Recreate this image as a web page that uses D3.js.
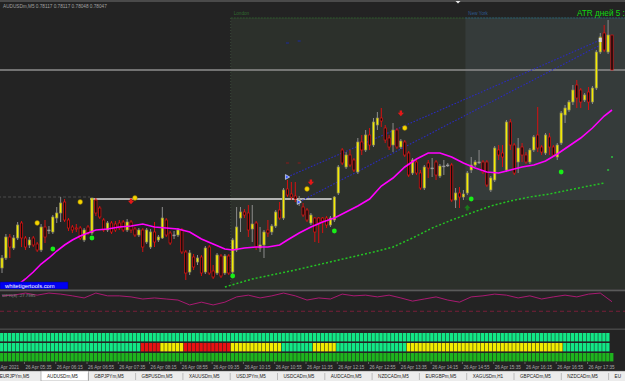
<!DOCTYPE html>
<html>
<head>
<meta charset="utf-8">
<script src="https://cdnjs.cloudflare.com/ajax/libs/d3/7.8.5/d3.min.js"></script>
<style>
    html, body { margin: 0; padding: 0; background: #232323; }
    svg { display: block; font-family: "Liberation Sans", Arial, sans-serif; }
</style>
</head>
<body>
<svg id="chart" width="625" height="381"></svg>
<script>
// AUDUSDm M5 candles, 26 Apr 2021, 05:05 .. 18:05
const opens = [
    0.77651, 0.77671, 0.77713, 0.77691, 0.77711, 0.77741, 0.77711, 0.77697, 0.77711, 0.77699,
    0.77687, 0.77733, 0.77727, 0.77723, 0.77751, 0.77761, 0.77783, 0.77747, 0.77733, 0.77731,
    0.77731, 0.77707, 0.77733, 0.77721, 0.77787, 0.77771, 0.77747, 0.77727, 0.77741, 0.77739,
    0.77741, 0.77743, 0.77727, 0.77743, 0.77729, 0.77717, 0.77727, 0.77703, 0.77693, 0.77723,
    0.77707, 0.77711, 0.77747, 0.77721, 0.77717, 0.77717, 0.77727, 0.77683, 0.77643, 0.77673,
    0.77663, 0.77673, 0.77643, 0.77693, 0.77645, 0.77641, 0.77675, 0.77641, 0.77675, 0.77643,
    0.77687, 0.77751, 0.77763, 0.77761, 0.77729, 0.77741, 0.77691, 0.77697, 0.77727, 0.77723,
    0.77735, 0.77767, 0.77751, 0.77809, 0.77799, 0.77795, 0.77781, 0.77773, 0.77767, 0.77741,
    0.77751, 0.77751, 0.77751, 0.77751, 0.77737, 0.77747, 0.77801, 0.77887, 0.77853, 0.77877,
    0.77867, 0.77843, 0.77903, 0.77887, 0.77917, 0.77897, 0.77937, 0.77951, 0.77931, 0.77911,
    0.77897, 0.77927, 0.77893, 0.77903, 0.77881, 0.77841, 0.77863, 0.77841, 0.77811, 0.77861,
    0.77851, 0.77863, 0.77835, 0.77855, 0.77857, 0.77857, 0.77787, 0.77801, 0.77793, 0.77801,
    0.77847, 0.77857, 0.77863, 0.77863, 0.77863, 0.77807, 0.77827, 0.77887, 0.77881, 0.77847,
    0.77943, 0.77897, 0.77863, 0.77893, 0.77877, 0.77863, 0.77887, 0.77917, 0.77893, 0.77881,
    0.77913, 0.77893, 0.77873, 0.77901, 0.77957, 0.77967, 0.77983, 0.78017, 0.78007, 0.77987,
    0.78003, 0.77983, 0.78011, 0.78083, 0.78121, 0.78083, 0.78117
];
const highs = [
    0.77677, 0.77719, 0.77719, 0.77717, 0.77743, 0.77745, 0.77715, 0.77713, 0.77715, 0.77703,
    0.77739, 0.77747, 0.77735, 0.77757, 0.77773, 0.77793, 0.77789, 0.77751, 0.77737, 0.77739,
    0.77735, 0.77731, 0.77737, 0.77791, 0.77791, 0.77775, 0.77751, 0.77745, 0.77745, 0.77745,
    0.77747, 0.77747, 0.77749, 0.77747, 0.77733, 0.77731, 0.77731, 0.77731, 0.77729, 0.77743,
    0.77717, 0.77773, 0.77751, 0.77725, 0.77725, 0.77731, 0.77731, 0.77687, 0.77687, 0.77679,
    0.77677, 0.77677, 0.77695, 0.77697, 0.77657, 0.77681, 0.77679, 0.77679, 0.77679, 0.77711,
    0.77773, 0.77773, 0.77769, 0.77777, 0.77777, 0.77745, 0.77733, 0.77727, 0.77747, 0.77739,
    0.77767, 0.77783, 0.77811, 0.77827, 0.77823, 0.77823, 0.77795, 0.77781, 0.77771, 0.77761,
    0.77753, 0.77753, 0.77753, 0.77755, 0.77755, 0.77795, 0.77857, 0.77891, 0.77883, 0.77887,
    0.77871, 0.77911, 0.77917, 0.77927, 0.77931, 0.77951, 0.77963, 0.77971, 0.77937, 0.77917,
    0.77941, 0.77931, 0.77909, 0.77907, 0.77885, 0.77871, 0.77867, 0.77847, 0.77857, 0.77867,
    0.77871, 0.77867, 0.77859, 0.77867, 0.77861, 0.77861, 0.77811, 0.77813, 0.77807, 0.77845,
    0.77873, 0.77867, 0.77887, 0.77867, 0.77867, 0.77835, 0.77895, 0.77897, 0.77897, 0.77947,
    0.77949, 0.77901, 0.77911, 0.77901, 0.77883, 0.77891, 0.77917, 0.77973, 0.77897, 0.77921,
    0.77921, 0.77897, 0.77901, 0.77965, 0.77977, 0.77987, 0.78017, 0.78027, 0.78011, 0.78001,
    0.78013, 0.78015, 0.78087, 0.78121, 0.78137, 0.78147, 0.78117
];
const lows = [
    0.77641, 0.77667, 0.77671, 0.77687, 0.77707, 0.77693, 0.77687, 0.77691, 0.77693, 0.77683,
    0.77683, 0.77701, 0.77719, 0.77719, 0.77741, 0.77743, 0.77743, 0.77725, 0.77721, 0.77723,
    0.77707, 0.77703, 0.77717, 0.77717, 0.77755, 0.77749, 0.77723, 0.77723, 0.77719, 0.77723,
    0.77727, 0.77723, 0.77723, 0.77721, 0.77713, 0.77713, 0.77683, 0.77699, 0.77689, 0.77693,
    0.77703, 0.77709, 0.77713, 0.77697, 0.77709, 0.77713, 0.77679, 0.77627, 0.77637, 0.77647,
    0.77657, 0.77635, 0.77639, 0.77637, 0.77629, 0.77637, 0.77631, 0.77637, 0.77637, 0.77639,
    0.77683, 0.77723, 0.77751, 0.77713, 0.77703, 0.77687, 0.77683, 0.77671, 0.77713, 0.77717,
    0.77731, 0.77747, 0.77747, 0.77793, 0.77787, 0.77783, 0.77775, 0.77753, 0.77743, 0.77737,
    0.77703, 0.77701, 0.77721, 0.77731, 0.77733, 0.77743, 0.77797, 0.77857, 0.77849, 0.77853,
    0.77843, 0.77839, 0.77877, 0.77883, 0.77887, 0.77893, 0.77927, 0.77933, 0.77901, 0.77887,
    0.77883, 0.77889, 0.77889, 0.77873, 0.77833, 0.77837, 0.77837, 0.77807, 0.77807, 0.77831,
    0.77833, 0.77827, 0.77831, 0.77837, 0.77853, 0.77783, 0.77771, 0.77771, 0.77787, 0.77797,
    0.77841, 0.77853, 0.77859, 0.77839, 0.77813, 0.77803, 0.77823, 0.77867, 0.77853, 0.77843,
    0.77887, 0.77837, 0.77841, 0.77863, 0.77859, 0.77859, 0.77883, 0.77883, 0.77877, 0.77877,
    0.77877, 0.77873, 0.77867, 0.77897, 0.77941, 0.77963, 0.77977, 0.77971, 0.77971, 0.77983,
    0.77967, 0.77979, 0.78007, 0.78079, 0.78083, 0.78079, 0.78047
];
const closes = [
    0.77671, 0.77713, 0.77693, 0.77711, 0.77737, 0.77711, 0.77693, 0.77707, 0.77697, 0.77687,
    0.77733, 0.77713, 0.77727, 0.77753, 0.77761, 0.77781, 0.77747, 0.77731, 0.77727, 0.77729,
    0.77711, 0.77727, 0.77721, 0.77791, 0.77761, 0.77753, 0.77727, 0.77741, 0.77723, 0.77727,
    0.77731, 0.77727, 0.77743, 0.77727, 0.77717, 0.77727, 0.77693, 0.77727, 0.77723, 0.77703,
    0.77713, 0.77751, 0.77717, 0.77701, 0.77717, 0.77727, 0.77683, 0.77641, 0.77681, 0.77653,
    0.77671, 0.77641, 0.77691, 0.77641, 0.77633, 0.77677, 0.77635, 0.77675, 0.77641, 0.77707,
    0.77733, 0.77763, 0.77757, 0.77727, 0.77739, 0.77693, 0.77697, 0.77723, 0.77721, 0.77735,
    0.77763, 0.77751, 0.77807, 0.77797, 0.77793, 0.77789, 0.77787, 0.77757, 0.77747, 0.77757,
    0.77723, 0.77741, 0.77745, 0.77737, 0.77751, 0.77793, 0.77853, 0.77861, 0.77877, 0.77857,
    0.77847, 0.77903, 0.77887, 0.77917, 0.77897, 0.77943, 0.77951, 0.77945, 0.77907, 0.77893,
    0.77927, 0.77893, 0.77905, 0.77877, 0.77837, 0.77867, 0.77841, 0.77811, 0.77853, 0.77851,
    0.77851, 0.77837, 0.77855, 0.77855, 0.77857, 0.77787, 0.77801, 0.77793, 0.77799, 0.77841,
    0.77857, 0.77863, 0.77863, 0.77843, 0.77817, 0.77831, 0.77891, 0.77877, 0.77873, 0.77943,
    0.77897, 0.77841, 0.77891, 0.77877, 0.77863, 0.77887, 0.77913, 0.77891, 0.77883, 0.77917,
    0.77893, 0.77877, 0.77897, 0.77961, 0.77971, 0.77983, 0.78007, 0.77991, 0.77983, 0.77997,
    0.77983, 0.78011, 0.78083, 0.78113, 0.78087, 0.78117, 0.78047
];

// Moving average (magenta), read at selected bars
const maBars = [4, 6, 8, 10, 12, 14, 16, 18, 20, 22, 24, 27, 30, 33, 36, 39, 42, 45, 48, 51, 54, 57,
    59, 62, 65, 68, 71, 73, 76, 79, 82, 85, 88, 91, 94, 97, 100, 103, 106, 109, 112, 115, 118, 121,
    124, 127, 130, 133, 136, 139, 142, 145, 148, 151, 154, 156];
const maValues = [0.77617, 0.77629, 0.77643, 0.77659, 0.77671, 0.77685, 0.77697, 0.77707, 0.77715, 0.77721,
    0.77727, 0.77729, 0.77733, 0.77735, 0.77739, 0.77733, 0.77731, 0.77729, 0.77723, 0.77709, 0.77699,
    0.77689, 0.77687, 0.77691, 0.77693, 0.77693, 0.77697, 0.77707, 0.77721, 0.77733, 0.77743, 0.77751,
    0.77763, 0.77775, 0.77789, 0.77815, 0.77831, 0.77853, 0.77869, 0.77881, 0.77881, 0.77873, 0.77861,
    0.77851, 0.77843, 0.77841, 0.77847, 0.77853, 0.77857, 0.77865, 0.77879, 0.77895, 0.77911, 0.77931,
    0.77955, 0.77967];

// Green dotted support line
const supBars = [57, 64, 75, 85, 95, 100, 105, 110, 115, 120, 125, 130, 135, 140, 145, 150, 154];
const supValues = [0.77613, 0.77629, 0.77647, 0.77665, 0.77683, 0.77693, 0.77711, 0.77731, 0.77747,
    0.77761, 0.77775, 0.77785, 0.77793, 0.77799, 0.77807, 0.77815, 0.77821];

// Signals [bar, price]
const yellowDots = [[9, 0.77741], [20, 0.77783], [34, 0.77791], [78, 0.77809], [103, 0.77931]];
const greenDots = [[13, 0.77689], [23, 0.77711], [59, 0.77635], [85, 0.77725], [120, 0.77789], [143, 0.77843]];
const sellArrows = [[33, 0.77783], [79, 0.77821], [102, 0.77959]];
const buyArrows = [[119, 0.77773]];
const blueMarks = [[73, 0.77833], [76, 0.77783]];
const trendA = [[73, 0.77833], [153, 0.78107]];
const trendB = [[76, 0.77783], [153.5, 0.78099]];

// Sessions [name, first bar, last bar, high, low]
const sessionNames = ["London", "New York"];
const sessionFrom = [58.5, 118.5];
const sessionTo = [160, 160];
const sessionHigh = [0.78151, 0.78151];
const sessionLow = [0.77590, 0.77787];

// Oscillator (sub window), every 3rd bar
const oscValues = [-11, -9, -3, -9, -3, -6, -11, -17, -3, -11, -11, -14, -20, -17, -20, -23, -37, -29,
    -37, -29, -14, -9, -17, -11, -3, -11, -23, -17, -20, -6, -11, -9, -14, -9, -17, -26, -20, -14, -23,
    -29, -14, -11, -6, -9, -17, -11, -20, -14, -9, -14, -6, -3, -27.8];

// Heat strip, middle row as runs of state
const row2States = ["g", "r", "y", "r", "y", "g", "y", "g", "y", "g"];
const row2Lengths = [36, 5, 6, 12, 13, 8, 6, 18, 40, 12];

// Time axis
const labelBars = [6, 14, 22, 30, 38, 46, 54, 62, 70, 78, 86, 94, 102, 110, 118, 126, 134, 142, 150];
const timeLabels = ["26 Apr 05:35", "26 Apr 06:15", "26 Apr 06:55", "26 Apr 07:35", "26 Apr 08:15",
    "26 Apr 08:55", "26 Apr 09:35", "26 Apr 10:15", "26 Apr 10:55", "26 Apr 11:35", "26 Apr 12:15",
    "26 Apr 12:55", "26 Apr 13:35", "26 Apr 14:15", "26 Apr 14:55", "26 Apr 15:35", "26 Apr 16:15",
    "26 Apr 16:55", "26 Apr 17:35"];

// Symbol tabs
const tabs = ["EURJPYm,M5", "AUDUSDm,M5", "GBPJPYm,M5", "GBPUSDm,M5", "XAUUSDm,M5", "USDJPYm,M5",
    "USDCADm,M5", "AUDCADm,M5", "NZDCADm,M5", "EURGBPm,M5", "XAGUSDm,H1", "GBPCADm,M5", "NZDCADm,M5", "EU"];

const svg = d3.select("svg#chart");

//   Scales
const x = d3.scaleLinear().domain([0, 156]).range([2, 612]);
const y = d3.scaleLinear().domain([0.77613, 0.78177]).range([287, 5]);
const yOsc = d3.scaleLinear().domain([0, -100]).range([292, 327]);
const step = x(1) - x(0);

//   Background + window frames
svg.append("rect").attr("width", 625).attr("height", 381).attr("fill", "#232323");
svg.append("rect").attr("width", 625).attr("height", 2).attr("fill", "#4a4a4a");

//   Main chart group with clip
svg.append("clipPath").attr("id", "mainClip")
    .append("rect").attr("x", 0).attr("y", 2).attr("width", 625).attr("height", 287);
const main = svg.append("g").attr("clip-path", "url(#mainClip)");

//   Session boxes
const sessions = sessionNames.map((n, k) => ({ name: n, from: sessionFrom[k], to: sessionTo[k], hi: sessionHigh[k], lo: sessionLow[k] }));
const sessFill = ["#2c302b", "#353b3a"];
const sessLine = ["#2f5a2f", "#2a4f7a"];
main.selectAll("rect.session")
    .data(sessions)
    .enter()
    .append("rect")
    .attr("class", "session")
    .attr("x", d => x(d.from))
    .attr("y", d => y(d.hi))
    .attr("width", d => x(d.to) - x(d.from))
    .attr("height", d => y(d.lo) - y(d.hi))
    .attr("fill", (d, k) => sessFill[k]);
main.selectAll("line.sessTop")
    .data(sessions)
    .enter()
    .append("line")
    .attr("x1", d => x(d.from)).attr("x2", d => x(d.to))
    .attr("y1", d => y(d.hi)).attr("y2", d => y(d.hi))
    .attr("stroke", (d, k) => sessLine[k])
    .attr("stroke-dasharray", "2,1");
main.append("line")
    .attr("x1", x(58.5)).attr("x2", x(58.5))
    .attr("y1", y(0.78151)).attr("y2", 287)
    .attr("stroke", "#3a4a3a").attr("stroke-dasharray", "1,2");
svg.selectAll("text.sess")
    .data(sessions)
    .enter()
    .append("text")
    .attr("x", d => x(d.from) + 3)
    .attr("y", d => y(d.hi) - 3)
    .attr("font-size", 4.6)
    .attr("fill", (d, k) => k === 0 ? "#2f6a2f" : "#2c5a90")
    .text(d => d.name);

//   Level lines
main.append("line")
    .attr("x1", x(-1)).attr("x2", x(22.5))
    .attr("y1", y(0.77793)).attr("y2", y(0.77793))
    .attr("stroke", "#4c4c4c").attr("stroke-dasharray", "3,2");
main.append("line")
    .attr("x1", x(22.5)).attr("x2", x(84.3))
    .attr("y1", y(0.77789)).attr("y2", y(0.77789))
    .attr("stroke", "#e0e0e0").attr("stroke-width", 1.6);

//   Bid line at the last close
main.append("line")
    .attr("x1", 0).attr("x2", 625)
    .attr("y1", y(closes[closes.length - 1])).attr("y2", y(closes[closes.length - 1]))
    .attr("stroke", "#8e8e8e").attr("stroke-width", 1.4);

//   Trend lines (blue dotted)
[trendA, trendB].forEach(t => {
    main.append("line")
        .attr("x1", x(t[0][0])).attr("y1", y(t[0][1]))
        .attr("x2", x(t[1][0])).attr("y2", y(t[1][1]))
        .attr("stroke", "#2b2bc0").attr("stroke-width", 1.1)
        .attr("stroke-dasharray", "1.6,1.6");
});

//   Green dotted support
main.append("path")
    .datum(supBars.map((b, k) => [b, supValues[k]]))
    .attr("d", d3.line().x(d => x(d[0])).y(d => y(d[1])))
    .attr("fill", "none")
    .attr("stroke", "#24c424").attr("stroke-width", 1.5)
    .attr("stroke-dasharray", "2,2");

//   Candles
const bars = opens.map((o, i) => ({ i: i, o: o, h: highs[i], l: lows[i], c: closes[i] }));
main.selectAll("line.wick")
    .data(bars)
    .enter()
    .append("line")
    .attr("class", "wick")
    .attr("x1", d => x(d.i)).attr("x2", d => x(d.i))
    .attr("y1", d => y(d.h)).attr("y2", d => y(d.l))
    .attr("stroke", d => d.c < d.o ? "#d81010" : "#8c8c8c");
main.selectAll("rect.body")
    .data(bars)
    .enter()
    .append("rect")
    .attr("class", "body")
    .attr("x", d => x(d.i) - 1.15)
    .attr("width", 2.3)
    .attr("y", d => y(Math.max(d.o, d.c)))
    .attr("height", d => Math.max(0.8, Math.abs(y(d.o) - y(d.c))))
    .attr("fill", d => d.c > d.o ? "#f4ec00" : d.c < d.o ? "#0c0c0c" : "#9a9a9a")
    .attr("stroke", d => d.c > d.o ? "#8d8a60" : d.c < d.o ? "#e01212" : "#9a9a9a")
    .attr("stroke-width", 0.7);

//   Moving average
main.append("path")
    .datum(maBars.map((b, k) => [b, maValues[k]]))
    .attr("d", d3.line().x(d => x(d[0])).y(d => y(d[1])))
    .attr("fill", "none")
    .attr("stroke", "#ff00ff").attr("stroke-width", 1.6);

//   Signal markers
main.selectAll("circle.ydot")
    .data(yellowDots)
    .enter()
    .append("circle")
    .attr("cx", d => x(d[0])).attr("cy", d => y(d[1])).attr("r", 2.4)
    .attr("fill", "#f5d400").attr("stroke", "#8a7000").attr("stroke-width", 0.5);
main.selectAll("circle.gdot")
    .data(greenDots)
    .enter()
    .append("circle")
    .attr("cx", d => x(d[0])).attr("cy", d => y(d[1])).attr("r", 2.4)
    .attr("fill", "#18ee18");
main.selectAll("path.sell")
    .data(sellArrows)
    .enter()
    .append("path")
    .attr("transform", d => "translate(" + x(d[0]) + "," + y(d[1]) + ")")
    .attr("d", "M-1.2,-3.5 h2.4 v2.2 h1.9 l-3.1,3.6 l-3.1,-3.6 h1.9 z")
    .attr("fill", "#e41818");
main.selectAll("path.buy")
    .data(buyArrows)
    .enter()
    .append("path")
    .attr("transform", d => "translate(" + x(d[0]) + "," + y(d[1]) + ")")
    .attr("d", "M-1.2,3.5 h2.4 v-2.2 h1.9 l-3.1,-3.6 l-3.1,3.6 h1.9 z")
    .attr("fill", "#1a7a1a");
main.selectAll("path.blue")
    .data(blueMarks)
    .enter()
    .append("path")
    .attr("transform", d => "translate(" + x(d[0]) + "," + y(d[1]) + ")")
    .attr("d", "M-2,-2.4 L2.2,0 L-2,2.4 z")
    .attr("fill", "#3a5cff").attr("stroke", "#ffffff").attr("stroke-width", 0.6);
main.append("rect")
    .attr("x", x(153) - 1.5).attr("y", y(0.78107) - 2)
    .attr("width", 3).attr("height", 4)
    .attr("fill", "#d8d8d8");
main.selectAll("rect.gtick")
    .data([[155, 0.77847], [156, 0.77873]])
    .enter()
    .append("rect")
    .attr("x", d => x(d[0]) - 1).attr("y", d => y(d[1]) - 0.7)
    .attr("width", 2).attr("height", 1.4)
    .attr("fill", "#2ecc40");
main.selectAll("line.rdash")
    .data([[73, 0.77861], [76, 0.77861]])
    .enter()
    .append("line")
    .attr("x1", d => x(d[0]) - 1.5).attr("x2", d => x(d[0]) + 1.5)
    .attr("y1", d => y(d[1])).attr("y2", d => y(d[1]))
    .attr("stroke", "#8a1a1a");
main.selectAll("line.bdash")
    .data([[73, 0.78101], [76, 0.78105]])
    .enter()
    .append("line")
    .attr("x1", d => x(d[0]) - 1.5).attr("x2", d => x(d[0]) + 1.5)
    .attr("y1", d => y(d[1])).attr("y2", d => y(d[1]))
    .attr("stroke", "#1a2aa0");

//   Texts on the main window
svg.append("text")
    .attr("x", 3).attr("y", 7.6)
    .attr("font-size", 4.7).attr("fill", "#a0a0a0")
    .text("AUDUSDm,M5  0.78117 0.78117 0.78048 0.78047");
svg.append("text")
    .attr("x", 577).attr("y", 15.5)
    .attr("font-size", 8.2).attr("fill", "#10d810")
    .text("ATR дней 5 :");
svg.append("path")
    .attr("d", "M455.5,1 h5 l-2.5,2.6 z")
    .attr("fill", "#e8e8e8");

//   whitetigertools label
svg.append("rect")
    .attr("x", 0).attr("y", 282).attr("width", 68).attr("height", 7)
    .attr("fill", "#0000f0").attr("stroke", "#000080").attr("stroke-width", 0.5);
svg.append("text")
    .attr("x", 5).attr("y", 287.6)
    .attr("font-size", 5.8).attr("fill", "#ffffff")
    .text("whitetigertools.com");

//   Window separators
svg.append("rect").attr("x", 0).attr("y", 289.5).attr("width", 625).attr("height", 1.8).attr("fill", "#5a5a5a");
svg.append("rect").attr("x", 0).attr("y", 328.5).attr("width", 625).attr("height", 1.4).attr("fill", "#4a4a4a");

//   Oscillator window
svg.append("line")
    .attr("x1", 0).attr("x2", 625)
    .attr("y1", yOsc(-55)).attr("y2", yOsc(-55))
    .attr("stroke", "#7a1f3a").attr("stroke-dasharray", "4,3");
svg.append("path")
    .datum(oscValues.map((v, k) => [k * 3, v]))
    .attr("d", d3.line().x(d => x(d[0])).y(d => yOsc(d[1])))
    .attr("fill", "none")
    .attr("stroke", "#b8187a").attr("stroke-width", 0.9);
svg.append("text")
    .attr("x", 2).attr("y", 297)
    .attr("font-size", 4.3).attr("fill", "#8a8a8a")
    .text("WPR(8) -27.7985");

//   Heat strip
const row2 = d3.merge(row2States.map((s, k) => d3.range(row2Lengths[k]).map(() => s)));
const stateColor = { g: "#12e886", r: "#e81212", y: "#f2ec00" };
const rows = [
    { y: 333, cells: d3.range(156).map(() => "#12e886") },
    { y: 343, cells: row2.map(s => stateColor[s]) },
    { y: 353, cells: d3.range(157).map(() => "#1eb41e") }
];
rows.forEach(r => {
    svg.append("g").selectAll("rect")
        .data(r.cells)
        .enter()
        .append("rect")
        .attr("x", (d, i) => x(i) - step / 2)
        .attr("y", r.y)
        .attr("width", step - 0.55)
        .attr("height", 8.4)
        .attr("fill", d => d);
});

//   Time axis
svg.append("text")
    .attr("x", 0.5).attr("y", 368.8)
    .attr("font-size", 4.6).attr("fill", "#a8a8a8")
    .text("Apr 2021");
svg.selectAll("line.tick")
    .data(labelBars)
    .enter()
    .append("line")
    .attr("x1", d => x(d) - 1).attr("x2", d => x(d) - 1)
    .attr("y1", 362).attr("y2", 364)
    .attr("stroke", "#909090").attr("stroke-width", 0.6);
svg.selectAll("text.time")
    .data(labelBars)
    .enter()
    .append("text")
    .attr("x", d => x(d))
    .attr("y", 368.8)
    .attr("font-size", 4.6).attr("fill", "#a8a8a8")
    .text((d, k) => timeLabels[k]);

//   Tabs
const tabX = d3.scaleBand().domain(d3.range(tabs.length)).range([-6.3, -6.3 + 47.3 * tabs.length]);
svg.append("rect").attr("x", 0).attr("y", 371).attr("width", 625).attr("height", 10).attr("fill", "#ececec");
svg.append("line").attr("x1", 0).attr("x2", 625).attr("y1", 371.3).attr("y2", 371.3).attr("stroke", "#a8a8a8").attr("stroke-width", 0.6);
svg.append("rect")
    .attr("x", tabX(1)).attr("y", 371).attr("width", tabX.bandwidth()).attr("height", 10)
    .attr("fill", "#ffffff").attr("stroke", "#8c8c8c").attr("stroke-width", 0.6);
svg.selectAll("line.tabsep")
    .data(d3.range(2, tabs.length))
    .enter()
    .append("line")
    .attr("x1", d => tabX(d)).attr("x2", d => tabX(d))
    .attr("y1", 373).attr("y2", 380)
    .attr("stroke", "#9a9a9a").attr("stroke-width", 0.6);
svg.selectAll("text.tab")
    .data(tabs)
    .enter()
    .append("text")
    .attr("x", (d, k) => tabX(k) + 6)
    .attr("y", 378.3)
    .attr("font-size", 4.6)
    .attr("fill", "#202020")
    .text(d => d);
</script>
</body>
</html>
